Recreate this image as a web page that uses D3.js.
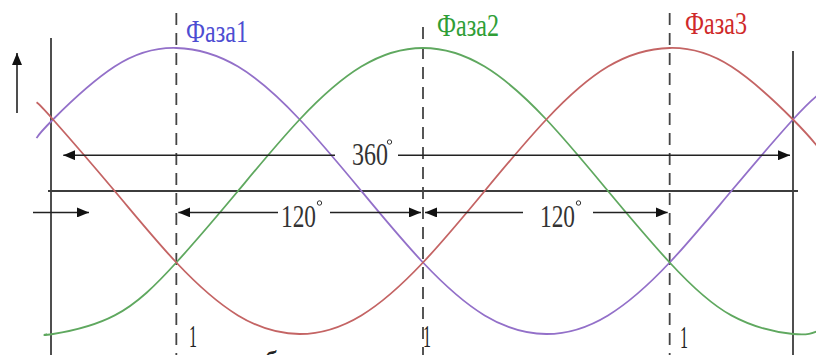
<!DOCTYPE html>
<html>
<head>
<meta charset="utf-8">
<script src="https://cdn.jsdelivr.net/npm/d3@7"></script>
<style>
  html, body { margin: 0; padding: 0; background: #fff; }
  svg { display: block; }
  text { font-family: "Liberation Serif", "DejaVu Serif", serif; }
</style>
</head>
<body>
<svg id="chart" width="816" height="355"></svg>
<script>
// Electrical angle samples (degrees) and the instantaneous value of each phase (per unit)
const anglesPurpleRed = [-8, 0, 30, 60, 90, 120, 150, 180, 210, 240, 270, 300, 330, 360, 372];
const anglesGreen     = [-3, 0, 30, 60, 90, 120, 150, 180, 210, 240, 270, 300, 330, 360, 372];
const phase1 = [0.37, 0.5, 0.87, 1, 0.87, 0.5, 0, -0.5, -0.87, -1, -0.87, -0.5, 0, 0.5, 0.67];
const phase2 = [-1, -1, -0.87, -0.5, 0, 0.5, 0.87, 1, 0.87, 0.5, 0, -0.5, -0.87, -1, -0.98];
const phase3 = [0.62, 0.5, 0, -0.5, -0.87, -1, -0.87, -0.5, 0, 0.5, 0.87, 1, 0.87, 0.5, 0.31];

const phaseNames = ["Фаза1", "Фаза2", "Фаза3"];
const phasePeaks = [60, 180, 300];          // angle of each phase maximum
const spanLabels = ["360", "120", "120"];
const markLabels = ["1", "1", "1"];

const svg = d3.select("#chart");
const x = d3.scaleLinear().domain([0, 360]).range([53, 793]);
const y = d3.scaleLinear().domain([-1, 1]).range([334, 48]);

const axisColor = "#3c3c3c";

// arrowhead marker
const defs = svg.append("defs");
defs.append("marker")
  .attr("id", "head")
  .attr("viewBox", "0 0 12 10")
  .attr("refX", 12).attr("refY", 5)
  .attr("markerWidth", 12).attr("markerHeight", 10)
  .attr("markerUnits", "userSpaceOnUse")
  .attr("orient", "auto-start-reverse")
  .append("path").attr("d", "M0,0 L12,5 L0,10 Z").attr("fill", "#111");

// frame: vertical limits and zero line
svg.append("line").attr("x1", x(0) - 2).attr("x2", x(0) - 2).attr("y1", 38).attr("y2", 355)
  .attr("stroke", axisColor).attr("stroke-width", 1.8);
svg.append("line").attr("x1", x(360)).attr("x2", x(360)).attr("y1", 51).attr("y2", 355)
  .attr("stroke", axisColor).attr("stroke-width", 1.8);
svg.append("line").attr("x1", 48).attr("x2", 798).attr("y1", y(0)).attr("y2", y(0))
  .attr("stroke", axisColor).attr("stroke-width", 1.8);

// vertical arrow (value direction) and small horizontal arrow (time direction)
svg.append("line").attr("x1", 17).attr("x2", 17).attr("y1", 113).attr("y2", 53)
  .attr("stroke", "#222").attr("stroke-width", 1.6).attr("marker-end", "url(#head)");
svg.append("line").attr("x1", 33).attr("x2", 89).attr("y1", y(-0.15)).attr("y2", y(-0.15))
  .attr("stroke", "#222").attr("stroke-width", 1.6).attr("marker-end", "url(#head)");

// dashed guides at phase maxima
const dashTops = [13, 27, 13];
svg.selectAll("line.guide").data(phasePeaks).join("line")
  .attr("class", "guide")
  .attr("x1", d => x(d)).attr("x2", d => x(d))
  .attr("y1", (d, i) => dashTops[i]).attr("y2", 355)
  .attr("stroke", "#444").attr("stroke-width", 1.8)
  .attr("stroke-dasharray", "12,8");

// phase curves
const line = d3.line().curve(d3.curveNatural);
const series = [
  { angles: anglesPurpleRed, values: phase1, color: "#9370c9" },
  { angles: anglesGreen,     values: phase2, color: "#5fa85f" },
  { angles: anglesPurpleRed, values: phase3, color: "#c46464" }
];
series.forEach(s => {
  svg.append("path")
    .attr("d", line(s.angles.map((a, i) => [x(a), y(s.values[i])])))
    .attr("fill", "none").attr("stroke", s.color).attr("stroke-width", 1.8);
});

// helper: condensed serif text fitted to a width
function label(str, left, baseline, width, color, size) {
  const t = svg.append("text")
    .attr("font-size", size).attr("fill", color).text(str);
  const w = t.node().getComputedTextLength();
  t.attr("transform", `translate(${left},${baseline}) scale(${width / w},1)`);
  return t;
}
function degree(left, top) {
  svg.append("circle").attr("cx", left + 2.5).attr("cy", top + 3).attr("r", 2.2)
    .attr("fill", "none").attr("stroke", "#333").attr("stroke-width", 1);
}

// phase names
const nameColors = ["#4d4dd2", "#2f9e36", "#cf2a2a"];
const nameLeft = [186, 437, 685];
const nameBase = [42, 36, 34];
phaseNames.forEach((n, i) => label(n, nameLeft[i], nameBase[i], 62, nameColors[i], 32));

// 360° span
const yFull = y(0.25);
svg.append("line").attr("x1", 335).attr("x2", x(5)).attr("y1", yFull).attr("y2", yFull)
  .attr("stroke", "#222").attr("stroke-width", 1.6).attr("marker-end", "url(#head)");
svg.append("line").attr("x1", 398).attr("x2", x(360) - 3).attr("y1", yFull).attr("y2", yFull)
  .attr("stroke", "#222").attr("stroke-width", 1.6).attr("marker-end", "url(#head)");
label(spanLabels[0], 352, 165, 36, "#333", 32);
degree(387, 139);

// 120° spans
const ySpan = y(-0.15);
const spans = [
  { from: phasePeaks[0], to: phasePeaks[1], l1: 278, textL: 281, l2: 330 },
  { from: phasePeaks[1], to: phasePeaks[2], l1: 523, textL: 540, l2: 593 }
];
spans.forEach((s, i) => {
  svg.append("line").attr("x1", s.l1).attr("x2", x(s.from) + 2).attr("y1", ySpan).attr("y2", ySpan)
    .attr("stroke", "#222").attr("stroke-width", 1.6).attr("marker-end", "url(#head)");
  svg.append("line").attr("x1", s.l2).attr("x2", x(s.to) - 2).attr("y1", ySpan).attr("y2", ySpan)
    .attr("stroke", "#222").attr("stroke-width", 1.6).attr("marker-end", "url(#head)");
  label(spanLabels[i + 1], s.textL, 227, 35, "#333", 32);
  degree(s.textL + 36, 200);
});

// marks below the guides
const markLeft = [189, 423, 680];
const markBase = [347, 347, 348];
markLabels.forEach((m, i) => label(m, markLeft[i], markBase[i], 8, "#222", 32));
label("б", 264, 373, 14, "#222", 32);
</script>
</body>
</html>
